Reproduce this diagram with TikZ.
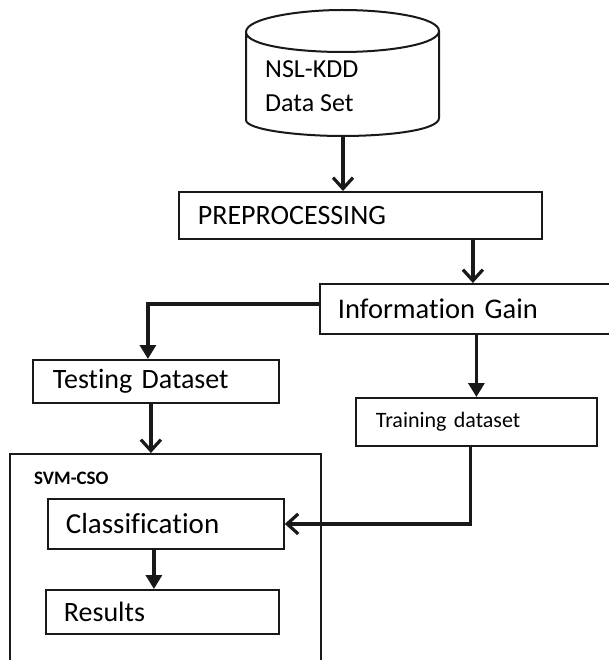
\documentclass[tikz,border=0pt]{standalone}
\usepackage{fontspec}
\setmainfont{Carlito}[Ligatures=NoCommon]
\usetikzlibrary{arrows.meta}
\tikzset{
  box/.style={draw=black!90, line width=1.8pt, rectangle, anchor=north west, align=left, inner ysep=0pt, inner xsep=#1},
  box/.default=18pt,
  conn/.style={draw=black!90, line width=3.2pt},
  chev/.style={conn, -{Straight Barb[length=11pt,width=20pt]}},
  tri/.style={conn, -{Triangle[length=14pt,width=16pt]}},
  lbl/.style={inner sep=0pt, anchor=west, align=left}
}
\newcommand{\fs}[1]{\fontsize{#1}{#1}\selectfont}
\begin{document}
\begin{tikzpicture}[x=1pt,y=-1pt]
\clip (0,0) rectangle (609,660);
\fill[white] (0,0) rectangle (609,660);
% cylinder
\draw[draw=black!90, line width=2pt, line join=round]
  (246,32) .. controls (246,18) and (300,10) .. (342,10)
           .. controls (390,10) and (439,18) .. (439,31)
           .. controls (439,44) and (390,52) .. (342,52)
           .. controls (300,52) and (246,46) .. (246,32)
  -- (246,120) .. controls (246,130) and (300,136) .. (342,136)
           .. controls (390,136) and (439,130) .. (439,118) -- (439,31);
\node[lbl, font=\fs{26}] (ds) at (265,86) {NSL-KDD\\[8pt]Data Set};
\coordinate (cylb) at (343,137);
% boxes
\node[box=19pt, text width=325pt, minimum height=47pt, font=\fs{28}] (prep) at (178,191) {PREPROCESSING};
\node[box=18pt, text width=270pt, minimum height=50pt, font=\fs{28.5}] (ig) at (319,283) {Information Gain};
\node[box=20pt, text width=206pt, minimum height=43pt, font=\fs{28}] (test) at (32,359) {Testing Dataset};
\node[box=20pt, text width=201pt, minimum height=48pt, font=\fs{22}] (train) at (355,397) {Training dataset};
\node[box=0pt, minimum width=311pt, minimum height=240pt] (svm) at (9,453) {};
\node[lbl, font=\fs{19}\bfseries] (svml) at (34,478) {SVM-CSO};
\node[box=18pt, text width=200pt, minimum height=50pt, font=\fs{29}] (cls) at (47,498) {Classification};
\node[box=18pt, text width=197pt, minimum height=44pt, font=\fs{28}] (res) at (45,589) {Results};
% connectors
\draw[chev] (cylb) -- (cylb |- prep.north);
\draw[chev] (ig.north |- prep.south) -- (ig.north);
\draw[tri] ([yshift=5pt]ig.west) -| ([xshift=-8pt]test.north);
\draw[tri] (train.north |- ig.south) -- (train.north);
\draw[chev] ([xshift=-5pt]test.south) -- ([xshift=-5pt]test.south |- svm.north);
\draw[tri] ([xshift=-12pt]cls.south) -- ([xshift=-12pt]cls.south |- res.north);
\draw[chev] ([xshift=-6pt]train.south) |- (cls.east);
\end{tikzpicture}
\end{document}
